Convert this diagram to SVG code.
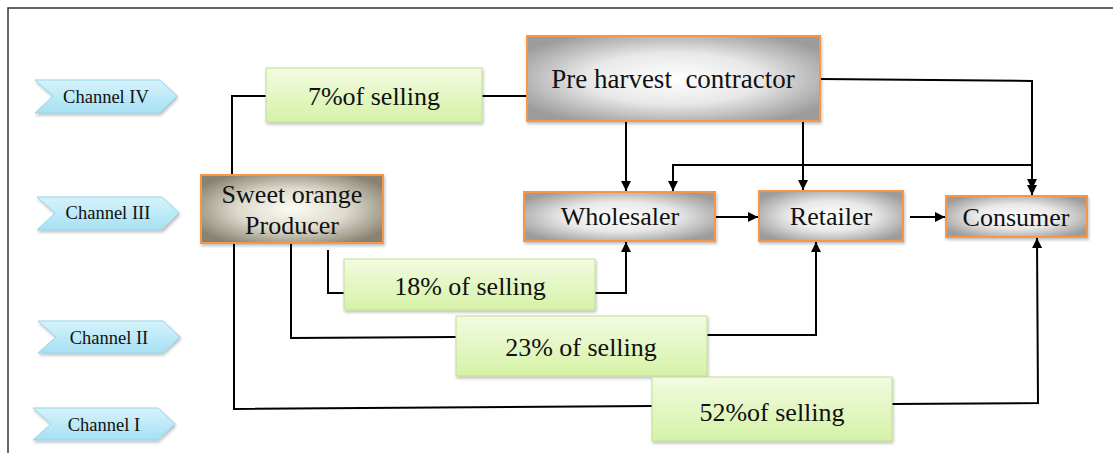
<svg xmlns="http://www.w3.org/2000/svg" width="1113" height="453" viewBox="0 0 1113 453">
<defs>
<radialGradient id="gGray" cx="50%" cy="50%" r="60%">
<stop offset="0" stop-color="#ffffff"/>
<stop offset="0.5" stop-color="#e8e8e8"/>
<stop offset="1" stop-color="#9c9c9c"/>
</radialGradient>
<radialGradient id="gBrown" cx="50%" cy="50%" r="60%">
<stop offset="0" stop-color="#fcfbf4"/>
<stop offset="0.5" stop-color="#dedbcd"/>
<stop offset="1" stop-color="#888270"/>
</radialGradient>
<linearGradient id="gGreen" x1="0" y1="0" x2="0" y2="1">
<stop offset="0" stop-color="#f3fbe2"/>
<stop offset="1" stop-color="#d5f2a6"/>
</linearGradient>
<linearGradient id="gCyan" x1="0" y1="0" x2="0" y2="1">
<stop offset="0" stop-color="#d6f3fc"/>
<stop offset="1" stop-color="#a6e0f3"/>
</linearGradient>
<filter id="sh" x="-10%" y="-10%" width="125%" height="135%">
<feDropShadow dx="1" dy="2" stdDeviation="1.5" flood-color="#000" flood-opacity="0.25"/>
</filter>
<marker id="ah" viewBox="0 0 10 10" refX="10" refY="5" markerWidth="5" markerHeight="5" orient="auto" markerUnits="strokeWidth">
<path d="M0,0 L10,5 L0,10 z" fill="#000"/>
</marker>
</defs>
<style>
.node{stroke:#f79646;stroke-width:2}
.green{fill:url(#gGreen);stroke:#c2de95;stroke-width:1}
.chan{fill:url(#gCyan);stroke:#93d3e9;stroke-width:1}
.t{font-family:"Liberation Serif","Times New Roman",serif;font-size:26px;fill:#111;text-anchor:middle;white-space:pre}
.ct{font-family:"Liberation Serif","Times New Roman",serif;font-size:18.5px;fill:#111;text-anchor:middle}
.ln{fill:none;stroke:#000;stroke-width:2}
.ar{fill:none;stroke:#000;stroke-width:2;marker-end:url(#ah)}
</style>
<rect x="0" y="0" width="1113" height="453" fill="#fff"/>
<path d="M8,453 L8,8 L1113,8" fill="none" stroke="#333" stroke-width="1.5"/>

<g id="channel-IV">
<polygon class="chan" filter="url(#sh)" points="35,80 160,80 177,96 160,113 35,113 53,96"/>
<text class="ct" x="106" y="103">Channel IV</text>
</g>
<g id="channel-III">
<polygon class="chan" filter="url(#sh)" points="37,197 162,197 179,213 162,230 37,230 55,213"/>
<text class="ct" x="108" y="219">Channel III</text>
</g>
<g id="channel-II">
<polygon class="chan" filter="url(#sh)" points="38,321 163,321 180,337 163,353 38,353 56,337"/>
<text class="ct" x="109" y="344">Channel II</text>
</g>
<g id="channel-I">
<polygon class="chan" filter="url(#sh)" points="33,408 158,408 175,424 158,440 33,440 51,424"/>
<text class="ct" x="104" y="431">Channel I</text>
</g>

<g id="connectors">
<path class="ln" d="M232,175 L232,96 L266,96"/>
<path class="ln" d="M482,96 L527,96"/>
<path class="ar" d="M626,121 L626,191"/>
<path class="ar" d="M803,121 L803,190"/>
<path class="ar" d="M820,79 L1032,81 L1032,195"/>
<path class="ar" d="M1032,165 L1032,189"/>
<path class="ar" d="M1032,165 L673,165 L673,191"/>
<path class="ar" d="M715,217 L758,217"/>
<path class="ar" d="M910,217 L945,217"/>
<path class="ln" d="M328,250 L328,293 L344,293"/>
<path class="ar" d="M595,293 L626,293 L626,242"/>
<path class="ln" d="M291,243 L291,338 L456,337"/>
<path class="ar" d="M707,335 L816,335 L816,242"/>
<path class="ln" d="M234,243 L234,409 L652,406"/>
<path class="ar" d="M892,404 L1038,403 L1037,238"/>
</g>

<g id="pct-7">
<rect class="green" filter="url(#sh)" x="266" y="68" width="216" height="54"/>
<text class="t" x="374" y="105">7%of selling</text>
</g>
<g id="pct-18">
<rect class="green" filter="url(#sh)" x="344" y="259" width="251" height="51"/>
<text class="t" x="470" y="295">18% of selling</text>
</g>
<g id="pct-23">
<rect class="green" filter="url(#sh)" x="456" y="316" width="251" height="60"/>
<text class="t" x="581" y="356">23% of selling</text>
</g>
<g id="pct-52">
<rect class="green" filter="url(#sh)" x="652" y="377" width="240" height="64"/>
<text class="t" x="772" y="421">52%of selling</text>
</g>

<g id="producer">
<rect class="node" filter="url(#sh)" x="201" y="175" width="182" height="68" fill="url(#gBrown)"/>
<text class="t" x="292" y="203">Sweet orange</text>
<text class="t" x="292" y="234">Producer</text>
</g>
<g id="contractor">
<rect class="node" filter="url(#sh)" x="527" y="36" width="293" height="85" fill="url(#gGray)"/>
<text class="t" x="673" y="88" style="font-size:27px">Pre harvest  contractor</text>
</g>
<g id="wholesaler">
<rect class="node" filter="url(#sh)" x="524" y="192" width="191" height="49" fill="url(#gGray)"/>
<text class="t" x="620" y="225">Wholesaler</text>
</g>
<g id="retailer">
<rect class="node" filter="url(#sh)" x="759" y="191" width="144" height="50" fill="url(#gGray)"/>
<text class="t" x="831" y="225">Retailer</text>
</g>
<g id="consumer">
<rect class="node" filter="url(#sh)" x="946" y="196" width="141" height="41" fill="url(#gGray)"/>
<text class="t" x="1016" y="226">Consumer</text>
</g>
</svg>
